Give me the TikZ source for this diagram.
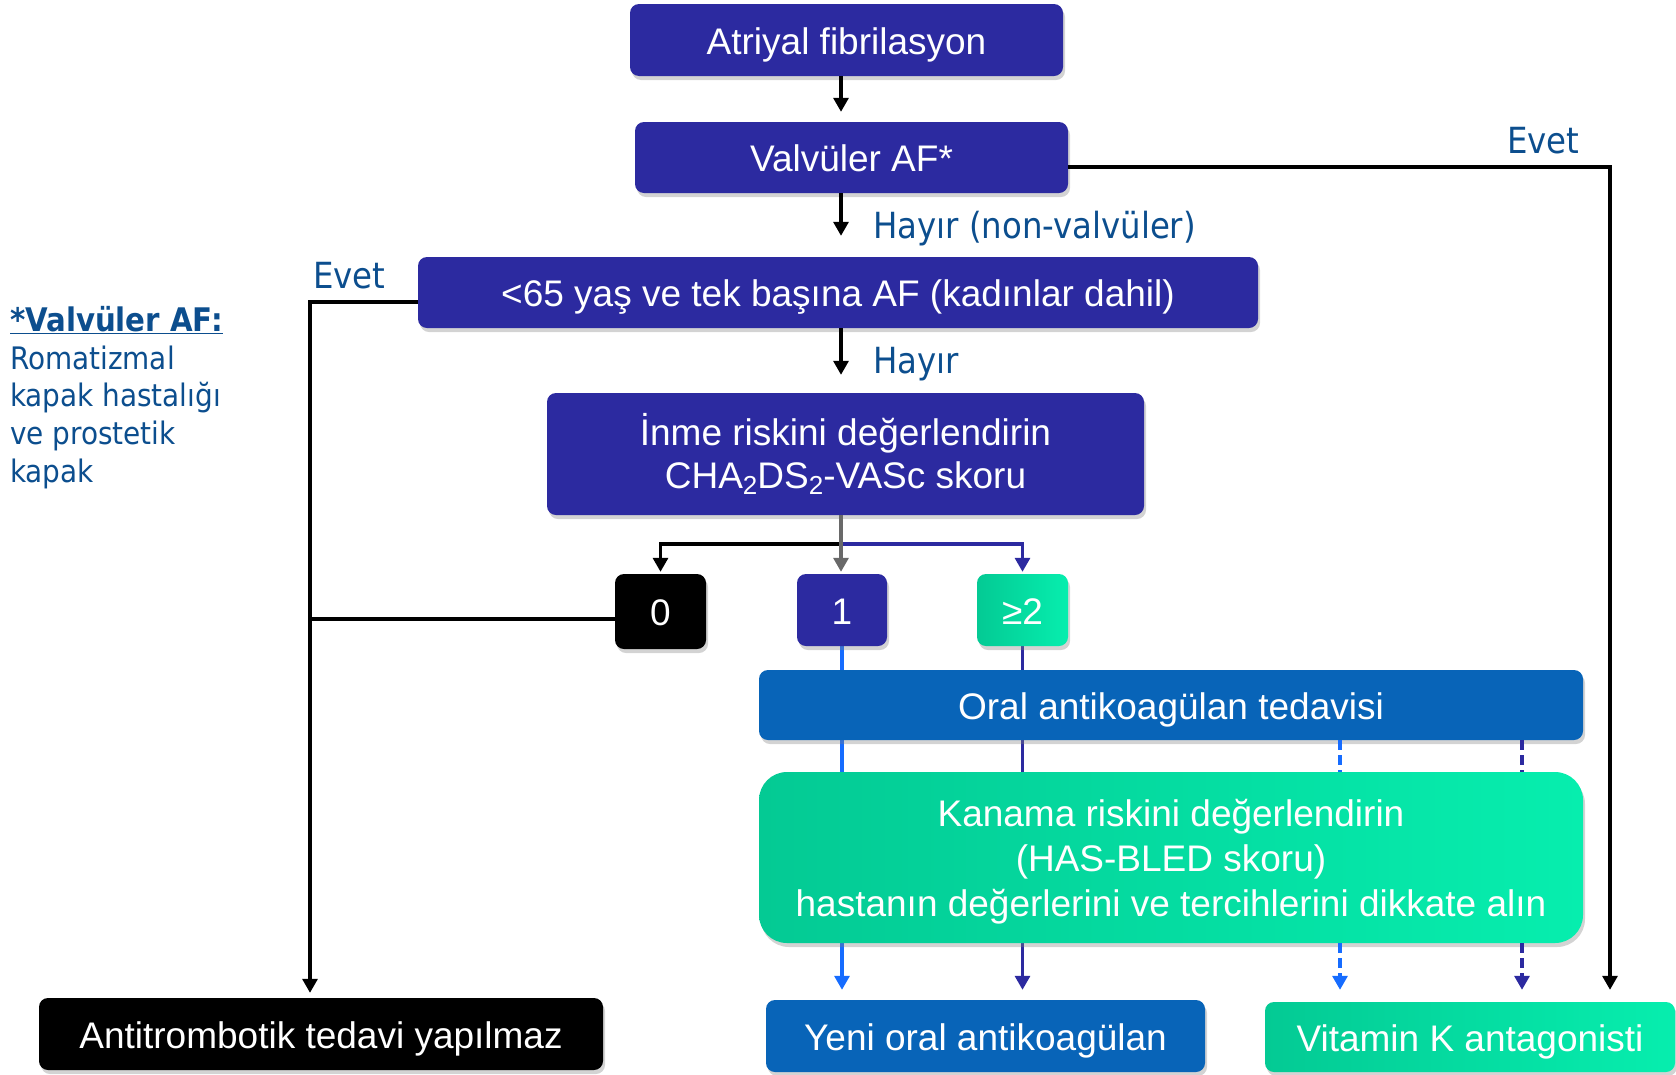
\documentclass[tikz,border=0pt]{standalone}
\usepackage{fontspec}
\setmainfont{Liberation Sans}
\newfontfamily\notefont{DejaVu Sans Condensed}[BoldFont={DejaVu Sans Condensed Bold}]
\usetikzlibrary{arrows.meta,shadows,backgrounds}
\definecolor{afnavy}{RGB}{44,42,160}
\definecolor{afgreen}{RGB}{6,225,163}
\definecolor{afgreenl}{RGB}{4,202,148}
\definecolor{afgreenr}{RGB}{6,238,174}
\definecolor{afblue}{RGB}{8,100,184}
\definecolor{aftext}{RGB}{12,78,142}
\definecolor{aflight}{RGB}{22,108,255}
\definecolor{afgray}{RGB}{105,105,105}
\newcommand{\subtwo}{\raisebox{-6pt}{\fontsize{26}{26}\selectfont 2}}

\begin{document}
\begin{tikzpicture}
  [x=1pt,y=-1pt,
   afbox/.style={rounded corners=9pt,inner sep=0pt,text=white,
     font=\fontsize{37}{37}\selectfont,
     drop shadow={shadow xshift=2pt,shadow yshift=-4pt,opacity=.35}},
   oneline/.style={text height=28pt,text depth=0pt},
   navybox/.style={afbox,fill=afnavy},
   greenbox/.style={afbox,left color=afgreenl,right color=afgreenr},
   bluebox/.style={afbox,fill=afblue},
   blackbox/.style={afbox,fill=black},
   lbl/.style={text=aftext,font=\notefont\fontsize{36}{36}\selectfont,
     inner sep=0pt,anchor=base west},
   arr/.style={line width=3.2pt,-{Triangle[width=15pt,length=14pt]}}]
  \useasboundingbox (0,0) rectangle (1676,1074);

  \node[navybox,oneline,minimum width=433pt,minimum height=72pt] (atr) at (846.5,40) {Atriyal fibrilasyon};
  \node[navybox,oneline,minimum width=433pt,minimum height=71pt] (valv) at (851.5,157.5) {Valvüler AF*};
  \node[navybox,oneline,minimum width=840pt,minimum height=71pt] (yas) at (838,292.5) {<65 yaş ve tek başına AF (kadınlar dahil)};
  \node[navybox,align=center,minimum width=597pt,minimum height=122pt,
    font=\fontsize{37}{43}\selectfont] (inme) at (845.5,454)
    {İnme riskini değerlendirin\\CHA\subtwo DS\subtwo-VASc skoru};

  \node[blackbox,oneline,minimum width=91pt,minimum height=75pt] (s0) at (660.5,611.5) {0};
  \node[navybox,oneline,minimum width=90pt,minimum height=72pt] (s1) at (842,610) {1};
  \node[greenbox,oneline,minimum width=91pt,minimum height=72pt] (s2) at (1022.5,610) {≥2};

  \node[bluebox,oneline,minimum width=824pt,minimum height=70pt] (oral) at (1171,705) {Oral antikoagülan tedavisi};
  \node[greenbox,align=center,rounded corners=28pt,minimum width=824pt,minimum height=171pt,
    font=\fontsize{37}{45}\selectfont] (kan) at (1171,857.5)
    {\rule{0pt}{36.5pt}Kanama riskini değerlendirin\\(HAS-BLED skoru)\\hastanın değerlerini ve tercihlerini dikkate alın};

  \node[blackbox,oneline,minimum width=564pt,minimum height=72pt] (anti) at (321,1034) {Antitrombotik tedavi yapılmaz};
  \node[bluebox,oneline,minimum width=439pt,minimum height=72pt] (yeni) at (985.5,1036) {Yeni oral antikoagülan};
  \node[greenbox,oneline,minimum width=410pt,minimum height=70pt] (vka) at (1470,1037) {Vitamin K antagonisti};

  \node[lbl] (hayir1) at (873,238) {Hayır (non-valvüler)};
  \node[lbl] (hayir2) at (873,373) {Hayır};
  \node[lbl] (evetl) at (313,288) {Evet};
  \node[lbl] (evetr) at (1507,153) {Evet};
  \node[text=aftext,font=\notefont\fontsize{31}{37.7}\selectfont,align=left,
    anchor=north west,inner sep=0pt] (note) at (10,306)
    {{\fontsize{32.5}{37.7}\selectfont\bfseries\underline{*Valvüler AF:}}\\Romatizmal\\kapak hastalığı\\ve prostetik\\kapak};

  \coordinate (hx) at (841,0);
  \coordinate (cl) at (310,0);
  \coordinate (cr) at (1610,0);
  \coordinate (da) at (1340,0);
  \coordinate (db) at (1522,0);
  \coordinate (fork) at (841,544);
  \coordinate (pl) at ([yshift=-9.5pt]yas.west);
  \coordinate (pr) at ([yshift=-9.5pt]valv.east);
  \coordinate (p0) at ([yshift=-7.5pt]s0.west);

  \foreach \from/\to/\gap in {atr/valv/10pt,valv/yas/21pt,yas/inme/18pt}
    \draw[arr,shorten >=\gap] (\from.south -| hx) -- (\to.north -| hx);

  \draw[arr,shorten >=5pt] (pl) -| (anti.north -| cl);
  \draw[line width=3.2pt] (p0) -- (p0 -| cl);
  \draw[arr,shorten >=12pt] (pr) -| (vka.north -| cr);

  \draw[arr,shorten >=2pt] (fork) -| (s0.north);
  \draw[arr,afnavy,shorten >=2pt] (fork) -| (s2.north);
  \draw[arr,afgray,shorten >=2pt] (inme.south -| hx) -- (s1.north -| hx);

  \begin{scope}[on background layer]
    \draw[arr,aflight,shorten >=10pt] (s1.south) -- (s1.south |- yeni.north);
    \draw[arr,afnavy,shorten >=10pt] (s2.south) -- (s2.south |- yeni.north);
  \end{scope}

  \foreach \x/\c in {da/aflight,db/afnavy} {
    \draw[line width=3.2pt,\c,dash pattern=on 10pt off 5pt] (oral.south -| \x) -- (kan.north -| \x);
    \draw[arr,\c,dash pattern=on 10pt off 5pt,shorten >=12pt] (kan.south -| \x) -- (vka.north -| \x);
  }

\end{tikzpicture}
\end{document}
